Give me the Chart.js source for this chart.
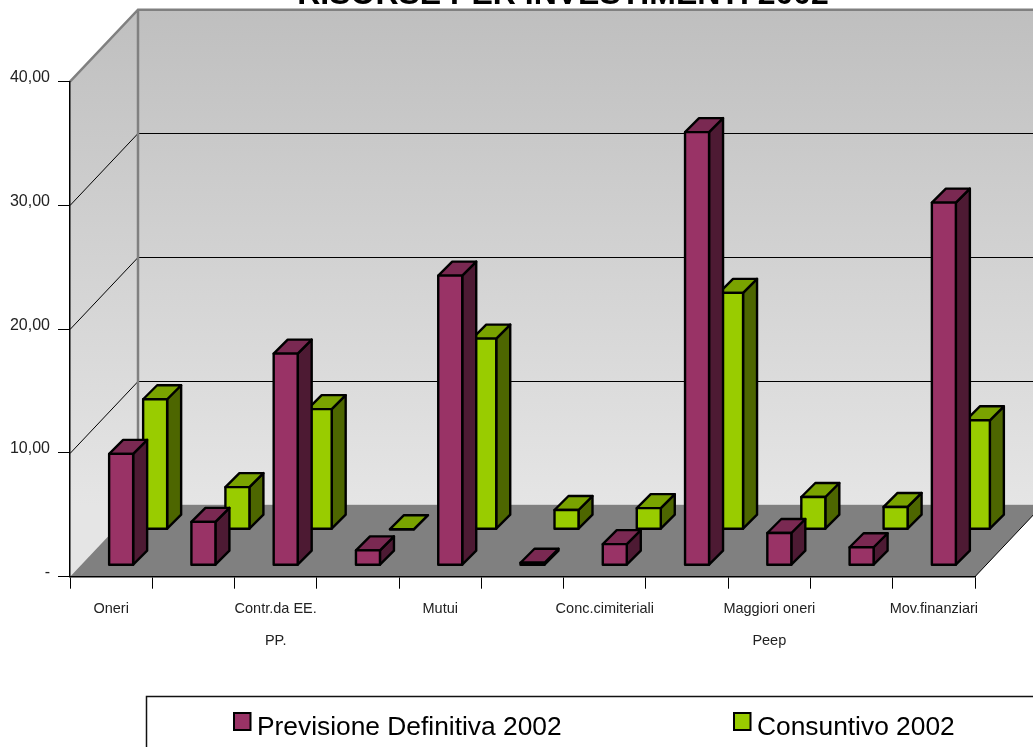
<!DOCTYPE html>
<html>
<head>
<meta charset="utf-8">
<style>
  html, body { margin: 0; padding: 0; background: #fff; overflow: hidden; }
  #wrap { position: relative; width: 1033px; height: 747px; }
</style>
<script src="https://cdn.jsdelivr.net/npm/chart.js@4/dist/chart.umd.min.js"></script>
</head>
<body>
<div id="wrap"><canvas id="chart" width="1033" height="747"></canvas></div>
<script>
const categories = [
  'Oneri', '', ['Contr.da EE.', 'PP.'], '', 'Mutui', '',
  'Conc.cimiteriali', '', ['Maggiori oneri', 'Peep'], '', 'Mov.finanziari'
];
const previsione = [9.0, 3.5, 17.1, 1.2, 23.4, 0.2, 1.7, 35.0, 2.6, 1.45, 29.3];
const consuntivo = [10.5, 3.4, 9.7, 0.0, 15.4, 1.55, 1.7, 19.1, 2.6, 1.8, 8.8];
const seriesNames = ['Previsione Definitiva 2002', 'Consuntivo 2002'];
const yTicks = ['-', '10,00', '20,00', '30,00', '40,00'];

// Oblique projection of the chart box and of the bars inside it.
const WALL = { dx: 68, dy: -72 };
const ROW = [{ dx: 10, dy: -11.5 }, { dx: 44, dy: -47.5 }];
const BAR_DEPTH = { dx: 14, dy: -14 };
const FACES = [
  { front: '#993366', top: '#7a2952', side: '#4d1a33' },
  { front: '#99cc00', top: '#7aa300', side: '#4d6600' }
];

function poly(ctx, pts, fill) {
  ctx.beginPath();
  pts.forEach((p, i) => i ? ctx.lineTo(p[0], p[1]) : ctx.moveTo(p[0], p[1]));
  ctx.closePath();
  if (fill) { ctx.fillStyle = fill; ctx.fill(); }
}

const roomPlugin = {
  id: 'room',
  // Walls, floor and receding gridlines go behind everything else.
  beforeDraw(chart) {
    const { ctx, chartArea: a, scales: { y } } = chart;
    const { dx, dy } = WALL;
    const L = a.left, R = a.right, T = y.getPixelForValue(40), B = y.getPixelForValue(0);
    ctx.save();
    const wall = ctx.createLinearGradient(0, T + dy, 0, B + dy);
    wall.addColorStop(0, '#bfbfbf');
    wall.addColorStop(1, '#e5e5e5');
    poly(ctx, [[L, T], [L + dx, T + dy], [L + dx, B + dy], [L, B]], wall);
    poly(ctx, [[L + dx, T + dy], [R + dx, T + dy], [R + dx, B + dy], [L + dx, B + dy]], wall);
    poly(ctx, [[L, B], [R, B], [R + dx, B + dy], [L + dx, B + dy]], '#808080');

    ctx.strokeStyle = '#000';
    ctx.lineWidth = 1;
    [10, 20, 30].forEach(v => {
      const py = Math.round(y.getPixelForValue(v)) + 0.5;
      ctx.beginPath();
      ctx.moveTo(L, py);
      ctx.lineTo(L + dx, py + dy);
      ctx.lineTo(R + dx, py + dy);
      ctx.stroke();
    });

    ctx.beginPath();
    ctx.moveTo(R, B);
    ctx.lineTo(R + dx, B + dy);
    ctx.stroke();

    ctx.strokeStyle = '#808080';
    ctx.lineWidth = 2.5;
    ctx.beginPath();
    ctx.moveTo(L, T);
    ctx.lineTo(L + dx, T + dy);
    ctx.lineTo(R + dx, T + dy);
    ctx.moveTo(L + dx, T + dy);
    ctx.lineTo(L + dx, B + dy);
    ctx.stroke();
    ctx.restore();
  },
  // Bars are extruded from the elements the bar controller laid out, back row first.
  afterDatasetsDraw(chart) {
    const { ctx } = chart;
    ctx.save();
    ctx.strokeStyle = '#000';
    ctx.lineWidth = 2.4;
    ctx.lineJoin = 'round';
    [1, 0].forEach(ds => {
      const { dx, dy } = ROW[ds];
      const f = FACES[ds];
      chart.getDatasetMeta(ds).data.forEach(el => {
        const w = el.width / 2;
        const x0 = el.x - w + dx, x1 = el.x + w + dx;
        const yt = el.y + dy, yb = el.base + dy;
        const ox = BAR_DEPTH.dx, oy = BAR_DEPTH.dy;
        poly(ctx, [[x1, yt], [x1 + ox, yt + oy], [x1 + ox, yb + oy], [x1, yb]], f.side); ctx.stroke();
        poly(ctx, [[x0, yt], [x0 + ox, yt + oy], [x1 + ox, yt + oy], [x1, yt]], f.top); ctx.stroke();
        poly(ctx, [[x0, yt], [x1, yt], [x1, yb], [x0, yb]], f.front); ctx.stroke();
      });
    });
    ctx.restore();
  },
  // Legend panel runs off the right and bottom of the page.
  afterDraw(chart) {
    const { ctx } = chart;
    ctx.save();
    ctx.strokeStyle = '#111';
    ctx.lineWidth = 1.5;
    ctx.strokeRect(146.5, 696.5, 1000, 100);
    ctx.font = '26.35px "Liberation Sans"';
    ctx.textBaseline = 'alphabetic';
    ctx.textAlign = 'left';
    ctx.strokeStyle = '#000';
    [233, 733].forEach((x, i) => {
      ctx.lineWidth = 2;
      ctx.fillStyle = FACES[i].front;
      ctx.fillRect(x + 1, 713, 16.5, 17);
      ctx.strokeRect(x + 1, 713, 16.5, 17);
      ctx.fillStyle = '#000';
      ctx.fillText(chart.data.datasets[i].label, x + 24, 735);
    });
    ctx.restore();
  },
  // The title hangs off the top of the page, off-centre towards the right.
  afterLayout(chart) {
    const t = chart.titleBlock;
    t.left = 93;
    t.right = 1033;
    t.top = 0;
    t.bottom = t.height;
  }
};

new Chart(document.getElementById('chart'), {
  type: 'bar',
  data: {
    labels: categories,
    datasets: [
      { label: seriesNames[0], data: previsione, backgroundColor: 'transparent', borderWidth: 0, barThickness: 24, grouped: false },
      { label: seriesNames[1], data: consuntivo, backgroundColor: 'transparent', borderWidth: 0, barThickness: 24, grouped: false }
    ]
  },
  plugins: [roomPlugin],
  options: {
    responsive: false,
    animation: false,
    layout: { padding: { top: 49.7, right: 58, left: 0, bottom: 0 } },
    plugins: {
      legend: { display: false },
      tooltip: { enabled: false },
      title: {
        display: true,
        text: 'RISORSE PER INVESTIMENTI 2002',
        color: '#000',
        font: { family: '"Liberation Sans"', size: 32, weight: 'bold', lineHeight: 1 },
        padding: { top: -21, bottom: 21 }
      }
    },
    scales: {
      x: {
        grid: { drawOnChartArea: false, tickLength: 12, color: '#000', offset: true },
        border: { color: '#000', width: 1.5 },
        ticks: {
          autoSkip: false, maxRotation: 0, minRotation: 0, padding: 4, color: '#222',
          font: { family: '"Liberation Sans"', size: 14.5, lineHeight: 2.2 }
        },
        afterFit(s) { s.height = 170.3; }
      },
      y: {
        min: 0, max: 40,
        grid: { drawOnChartArea: false, tickLength: 12, color: '#000' },
        border: { color: '#000', width: 1.5 },
        ticks: {
          stepSize: 10, padding: 8, color: '#222', labelOffset: -4,
          font: { family: '"Liberation Sans"', size: 16 },
          callback: (v) => yTicks[v / 10]
        },
        afterFit(s) { s.width = 70; }
      }
    }
  }
});
</script>
</body>
</html>
